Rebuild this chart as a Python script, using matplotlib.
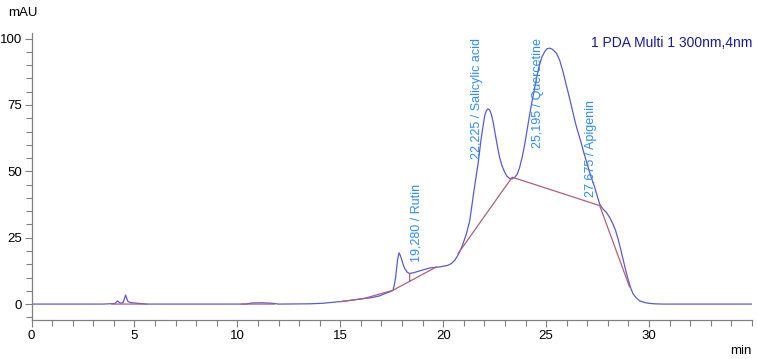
import numpy as np
import matplotlib
matplotlib.use('Agg')
import matplotlib.pyplot as plt
from matplotlib.ticker import MultipleLocator

plt.rcParams['font.family'] = ['Liberation Sans', 'DejaVu Sans']

# chromatogram (min, mAU)
time = [0.0, 3.5, 4.05, 4.18, 4.3, 4.45, 4.57, 4.68, 4.8, 5.0, 5.3, 5.6,
        10.4, 10.7, 11.2, 11.7, 12.0, 13.5, 14.17, 15.30, 16.11, 16.43,
        16.92, 17.08, 17.40, 17.56, 17.62, 17.69, 17.78, 17.85, 17.90, 17.97,
        18.05, 18.13, 18.25, 18.37, 18.60, 18.86, 19.34, 19.83, 20.23, 20.40,
        20.56, 20.68, 20.80, 20.95, 21.13, 21.29, 21.40, 21.53, 21.69, 21.85,
        22.01, 22.09, 22.17, 22.25, 22.34, 22.42, 22.50, 22.62, 22.74, 22.86,
        22.99, 23.10, 23.23, 23.35, 23.47, 23.60, 23.71, 23.84, 23.96, 24.08,
        24.20, 24.32, 24.44, 24.56, 24.68, 24.80, 24.93, 25.05, 25.17, 25.30,
        25.50, 25.66, 25.82, 25.98, 26.06, 26.18, 26.26, 26.42, 26.50, 26.70,
        26.82, 26.95, 27.08, 27.20, 27.35, 27.44, 27.60, 27.76, 27.92, 28.08,
        28.24, 28.37, 28.49, 28.61, 28.73, 28.85, 28.97, 29.09, 29.21, 29.38,
        29.55, 29.80, 30.03, 30.30, 30.66, 35.0]
signal = [0.0, 0.0, 0.2, 1.2, 0.4, 0.5, 3.4, 1.0, 0.6, 0.4, 0.2, 0.0,
          0.0, 0.4, 0.5, 0.3, 0.0, 0.1, 0.3, 1.2, 2.1, 2.3,
          3.1, 3.7, 4.6, 5.2, 7.0, 10.2, 16.5, 19.3, 18.6, 17.1,
          15.0, 13.4, 12.0, 11.5, 11.9, 12.5, 13.6, 14.0, 14.6, 15.3,
          16.5, 18.0, 19.6, 22.5, 26.5, 31.5, 37.5, 44.6, 52.7, 62.7,
          70.8, 72.8, 73.5, 73.2, 71.4, 68.8, 65.2, 60.0, 55.2, 52.0,
          49.6, 48.1, 47.3, 47.2, 47.7, 49.0, 51.4, 55.5, 60.2, 65.8,
          71.4, 76.6, 81.4, 86.2, 90.1, 93.2, 95.1, 96.2, 96.4, 96.0,
          94.5, 91.8, 87.5, 82.5, 80.0, 76.2, 73.5, 68.3, 66.0, 60.8,
          57.3, 53.9, 50.5, 47.5, 44.2, 41.8, 37.7, 35.8, 34.6, 32.7,
          30.2, 27.8, 24.6, 21.0, 17.1, 13.2, 9.6, 6.5, 4.0, 2.3,
          1.2, 0.55, 0.25, 0.08, 0.0, 0.0]

# integration baseline segments (nan separates segments)
base_t = [3.9, 5.6, np.nan, 10.2, 11.8, np.nan, 15.0, 16.1, 17.56, 19.67, np.nan,
          18.37, 18.37, np.nan, 20.72, 23.35, 27.60, 29.05]
base_v = [0.0, 0.0, np.nan, 0.0, 0.0, np.nan, 0.9, 2.0, 5.2, 14.0, np.nan,
          11.5, 8.6, np.nan, 19.0, 47.8, 37.1, 6.5]

peak_labels = ['19,280 / Rutin', '22,225 / Salicylic acid',
               '25,195 / Quercetine', '27,675 / Apigenin']
label_x = [18.71, 21.64, 24.6, 27.19]
label_y = [15.7, 54.7, 58.7, 40.2]

fig = plt.figure(figsize=(7.57, 3.59), dpi=100)
ax = fig.add_axes([31.5 / 757, 1 - 320 / 359, (752 - 31.5) / 757, (320 - 33.3) / 359])

ax.plot(time, signal, color='#5a5ad4', lw=0.9)
ax.plot(base_t, base_v, color='#b0607a', lw=0.9)

for txt, x, y in zip(peak_labels, label_x, label_y):
    ax.text(x, y, txt, rotation=90, ha='center', va='bottom',
            color='#2b8cff', fontsize=9)

ax.text(35, 98.2, '1 PDA Multi 1 300nm,4nm', ha='right', va='center',
        color='#1a1a9a', fontsize=10)

ax.set_xlim(0, 35)
ax.set_ylim(-6, 102)
ax.set_xticks([0, 5, 10, 15, 20, 25, 30])
ax.xaxis.set_minor_locator(MultipleLocator(1))
ax.set_yticks([0, 25, 50, 75, 100])
ax.yaxis.set_minor_locator(MultipleLocator(5))

for s in ['top', 'right']:
    ax.spines[s].set_visible(False)
for s in ['left', 'bottom']:
    ax.spines[s].set_color('#808080')
    ax.spines[s].set_linewidth(0.9)
ax.tick_params(which='major', length=5, width=0.8, color='#808080',
               labelsize=9.5, pad=2)
ax.tick_params(which='minor', length=4, width=0.8, color='#808080')

fig.text(8 / 757, 1 - 13 / 359, 'mAU', ha='left', va='center', fontsize=9.5)
fig.text(752 / 757, 1 - 351 / 359, 'min', ha='right', va='center', fontsize=9.5)

fig.savefig('out.png', dpi=100)
